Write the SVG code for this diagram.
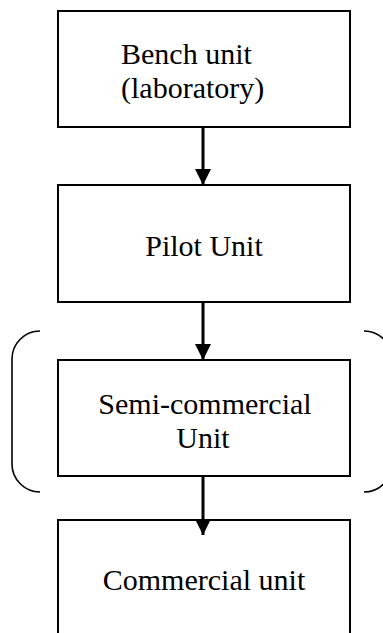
<svg xmlns="http://www.w3.org/2000/svg" width="383" height="633" viewBox="0 0 383 633">
<style>
.box{fill:#fff;stroke:#000;stroke-width:2}
text{font-family:'Liberation Serif','Times New Roman',Times,serif;font-size:30px;fill:#000}
.c{text-anchor:middle}
.arr{stroke:#000;stroke-width:3;fill:none}
.br{stroke:#000;stroke-width:1.6;fill:none}
</style>
<defs>
<marker id="ah" markerUnits="userSpaceOnUse" markerWidth="16" markerHeight="16" refX="16" refY="8" orient="auto">
<path d="M0,0 L16,8 L0,16 z" fill="#000"/>
</marker>
</defs>
<rect width="383" height="633" fill="#fff"/>
<g id="bracket-left"><path class="br" d="M40,331 A28,28 0 0 0 12,359 L12,464 A28,28 0 0 0 40,492"/></g>
<g id="bracket-right"><path class="br" d="M364,331 A28,28 0 0 1 392,359 L392,464 A28,28 0 0 1 364,492"/></g>
<g id="bench">
<rect class="box" x="58" y="11" width="292" height="116"/>
<text x="121" y="64">Bench unit</text>
<text x="121" y="98">(laboratory)</text>
</g>
<g id="pilot">
<rect class="box" x="58" y="185" width="292" height="117"/>
<text class="c" x="204" y="256">Pilot Unit</text>
</g>
<g id="semi">
<rect class="box" x="58" y="360" width="292" height="116"/>
<text class="c" x="205" y="414">Semi-commercial</text>
<text class="c" x="203" y="448">Unit</text>
</g>
<g id="commercial">
<rect class="box" x="58" y="520" width="292" height="125"/>
<text class="c" x="204" y="590">Commercial unit</text>
</g>
<g id="connectors">
<line class="arr" x1="203" y1="127" x2="203" y2="185" marker-end="url(#ah)"/>
<line class="arr" x1="203" y1="302" x2="203" y2="360" marker-end="url(#ah)"/>
<line class="arr" x1="203" y1="476" x2="203" y2="535" marker-end="url(#ah)"/>
</g>
</svg>
